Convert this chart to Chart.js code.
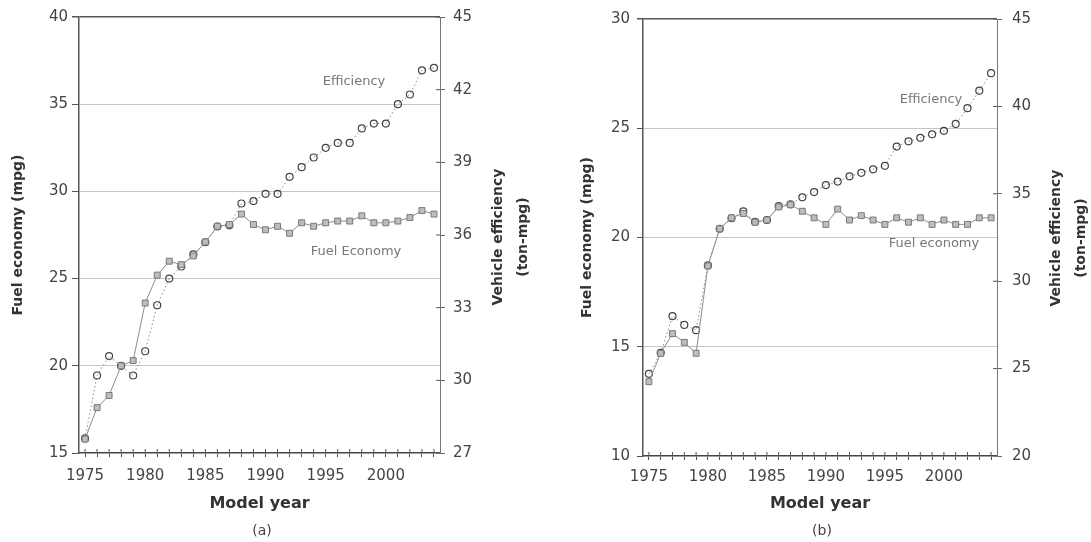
<!DOCTYPE html>
<html>
<head>
<meta charset="utf-8">
<title>Fuel economy and vehicle efficiency</title>
<script src="https://cdn.jsdelivr.net/npm/chart.js@4.4.1/dist/chart.umd.min.js"></script>
<style>
  body { margin: 0; background: #fff; }
  #page { position: relative; width: 1091px; height: 542px; font-family: "DejaVu Sans", sans-serif; color: #333; overflow: hidden; }
  .box { position: absolute; top: 0; height: 542px; }
  .lbl { position: absolute; white-space: nowrap; transform: translate(-50%, -50%); }
  .rot { transform: translate(-50%, -50%) rotate(-90deg); font-weight: bold; font-size: 14px; color: #333; }
  .note { font-size: 13px; color: #777; }
  .cap { font-size: 14px; color: #444; }
</style>
</head>
<body>
<div id="page">
  <div class="box" style="left:0;width:545px"><canvas id="chartA"></canvas></div>
  <div class="box" style="left:545px;width:546px"><canvas id="chartB"></canvas></div>

  <div class="lbl rot" style="left:497px;top:237px">Vehicle efficiency</div>
  <div class="lbl rot" style="left:522px;top:237px">(ton-mpg)</div>
  <div class="lbl rot" style="left:1055px;top:238px">Vehicle efficiency</div>
  <div class="lbl rot" style="left:1080px;top:238px">(ton-mpg)</div>

  <div class="lbl note" style="left:354px;top:80px">Efficiency</div>
  <div class="lbl note" style="left:356px;top:250px">Fuel Economy</div>
  <div class="lbl note" style="left:931px;top:98px">Efficiency</div>
  <div class="lbl note" style="left:934px;top:242px">Fuel economy</div>

  <div class="lbl cap" style="left:262px;top:530px">(a)</div>
  <div class="lbl cap" style="left:822px;top:530px">(b)</div>
</div>

<script>
// model years on the x axis, labelled every 5 years
const years = [1975, 1976, 1977, 1978, 1979, 1980, 1981, 1982, 1983, 1984,
               1985, 1986, 1987, 1988, 1989, 1990, 1991, 1992, 1993, 1994,
               1995, 1996, 1997, 1998, 1999, 2000, 2001, 2002, 2003, 2004];
const yearTicks = [1975, 1980, 1985, 1990, 1995, 2000];

// panel (a)
const fuelA = [15.8, 17.6, 18.3, 20.0, 20.3, 23.6, 25.2, 26.0, 25.8, 26.3,
               27.1, 28.0, 28.1, 28.7, 28.1, 27.8, 28.0, 27.6, 28.2, 28.0,
               28.2, 28.3, 28.3, 28.6, 28.2, 28.2, 28.3, 28.5, 28.9, 28.7];
const effA  = [27.6, 30.2, 31.0, 30.6, 30.2, 31.2, 33.1, 34.2, 34.7, 35.2,
               35.7, 36.35, 36.4, 37.3, 37.4, 37.7, 37.7, 38.4, 38.8, 39.2,
               39.6, 39.8, 39.8, 40.4, 40.6, 40.6, 41.4, 41.8, 42.8, 42.9];

// panel (b)
const fuelB = [13.4, 14.7, 15.6, 15.2, 14.7, 18.7, 20.4, 20.9, 21.1, 20.7,
               20.8, 21.4, 21.5, 21.2, 20.9, 20.6, 21.3, 20.8, 21.0, 20.8,
               20.6, 20.9, 20.7, 20.9, 20.6, 20.8, 20.6, 20.6, 20.9, 20.9];
const effB  = [24.7, 25.9, 28.0, 27.5, 27.2, 30.9, 33.0, 33.6, 34.0, 33.4,
               33.5, 34.3, 34.4, 34.8, 35.1, 35.5, 35.7, 36.0, 36.2, 36.4,
               36.6, 37.7, 38.0, 38.2, 38.4, 38.6, 39.0, 39.9, 40.9, 41.9];

const font = 'DejaVu Sans';

// short tick marks that cross the bottom and right axis lines
const crossTicks = {
    id: 'crossTicks',
    afterDraw(chart) {
        const { ctx, chartArea, scales } = chart;
        ctx.save();
        ctx.strokeStyle = '#555';
        ctx.lineWidth = 1;
        ctx.beginPath();
        scales.x.ticks.forEach((t, i) => {
            const px = scales.x.getPixelForTick(i);
            ctx.moveTo(px, chartArea.bottom - 4);
            ctx.lineTo(px, chartArea.bottom);
        });
        scales.y1.ticks.forEach((t, i) => {
            const py = scales.y1.getPixelForTick(i);
            ctx.moveTo(chartArea.right - 4, py);
            ctx.lineTo(chartArea.right, py);
        });
        ctx.stroke();
        ctx.restore();
    }
};

function makeChart(id, fuel, eff, p) {
    new Chart(document.getElementById(id), {
        type: 'line',
        data: {
            labels: years,
            datasets: [
                {
                    label: 'Fuel economy',
                    data: fuel,
                    yAxisID: 'y',
                    borderColor: '#8c8c8c',
                    borderWidth: 1,
                    pointStyle: 'rect',
                    pointRadius: 4.2,
                    pointBackgroundColor: '#bdbdbd',
                    pointBorderColor: '#7a7a7a',
                    pointBorderWidth: 1,
                    tension: 0
                },
                {
                    label: 'Efficiency',
                    data: eff,
                    yAxisID: 'y1',
                    borderColor: '#8a8a8a',
                    borderWidth: 1,
                    borderDash: [1.5, 2.5],
                    pointStyle: 'circle',
                    pointRadius: 3.5,
                    pointBackgroundColor: 'rgba(255,255,255,0)',
                    pointBorderColor: '#444',
                    pointBorderWidth: 1.2,
                    tension: 0
                }
            ]
        },
        options: {
            responsive: true,
            maintainAspectRatio: false,
            animation: false,
            layout: { padding: { top: 16, left: 0, right: 0, bottom: 0 } },
            plugins: {
                legend: { display: false },
                tooltip: { enabled: false }
            },
            scales: {
                x: {
                    type: 'category',
                    offset: true,
                    grid: { drawOnChartArea: false, drawTicks: true, tickLength: 4, color: '#555' },
                    border: { color: '#444', width: 1.5 },
                    ticks: {
                        autoSkip: false,
                        maxRotation: 0,
                        padding: p.xPad,
                        color: '#444',
                        font: { family: font, size: 15 },
                        callback: (v, i) => yearTicks.includes(years[i]) ? String(years[i]) : ''
                    },
                    title: {
                        display: true,
                        text: 'Model year',
                        color: '#333',
                        font: { family: font, size: 16, weight: 'bold' },
                        padding: { top: 0, bottom: 29 }
                    },
                    afterFit: s => { s.height = p.xHeight; }
                },
                y: {
                    position: 'left',
                    min: p.yMin, max: p.yMax,
                    ticks: { stepSize: 5, padding: p.yPad, color: '#444', font: { family: font, size: 15 } },
                    grid: {
                        color: c => c.tick.value === p.yMax ? '#555' : (c.tick.value === p.yMin ? 'rgba(0,0,0,0)' : '#c6c6c6'),
                        lineWidth: c => c.tick.value === p.yMax ? 1.5 : 1,
                        tickColor: '#555',
                        tickLength: p.yTick
                    },
                    border: { color: '#555', width: 1.5 },
                    title: {
                        display: true,
                        text: 'Fuel economy (mpg)',
                        color: '#333',
                        font: { family: font, size: 14, weight: 'bold' },
                        padding: { top: p.titlePad, bottom: 0 }
                    },
                    afterFit: s => { s.width = p.yWidth; }
                },
                y1: {
                    position: 'right',
                    min: p.y1Min, max: p.y1Max,
                    ticks: { stepSize: p.y1Step, padding: p.y1Pad, color: '#444', font: { family: font, size: 15 } },
                    grid: { drawOnChartArea: false, tickLength: 5, color: '#666' },
                    border: { color: '#777', width: 1 },
                    afterFit: s => { s.width = p.y1Width; }
                }
            }
        },
        plugins: [crossTicks]
    });
}

makeChart('chartA', fuelA, effA, {
    yMin: 15, yMax: 40, y1Min: 27, y1Max: 45, y1Step: 3,
    yWidth: 79, y1Width: 105, xHeight: 89,
    yPad: 4, yTick: 7, y1Pad: 8, xPad: 10, titlePad: 10
});

makeChart('chartB', fuelB, effB, {
    yMin: 10, yMax: 30, y1Min: 20, y1Max: 45, y1Step: 5,
    yWidth: 98, y1Width: 94, xHeight: 86,
    yPad: 7, yTick: 6, y1Pad: 10, xPad: 8, titlePad: 34
});
</script>
</body>
</html>
